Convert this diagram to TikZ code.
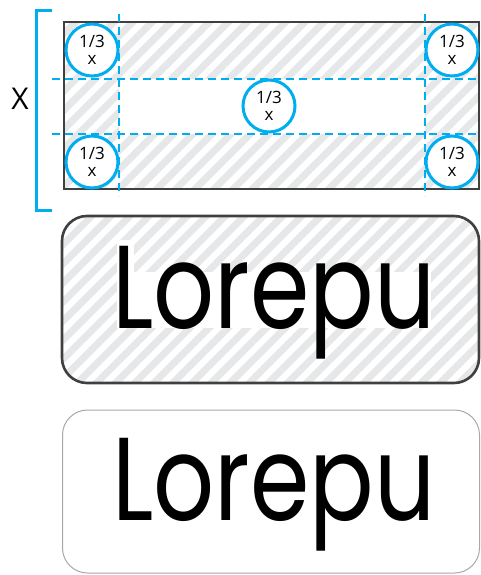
\documentclass[tikz,border=0pt]{standalone}
\usepackage{fontspec}
\setmainfont{Open Sans}
\newfontfamily\logofont{Poppins}
\usetikzlibrary{positioning, patterns.meta}
\definecolor{guideblue}{RGB}{0,174,239}
\definecolor{stripegray}{RGB}{230,231,232}
\definecolor{framegray}{RGB}{64,64,64}
\definecolor{thingray}{RGB}{168,168,168}

\begin{document}
\begin{tikzpicture}[
  x=1pt, y=-1pt,
  hatch/.style={pattern={Lines[angle=45, distance=13.5pt, line width=7pt]},
    pattern color=stripegray},
  guide/.style={draw=guideblue, line width=2.4pt, dash pattern=on 8pt off 5pt},
  ring/.style={circle, draw=guideblue, line width=3pt, fill=white,
    minimum size=52pt, inner sep=0pt, align=center,
    font=\fontsize{17}{17}\selectfont},
  tagbox/.style={rounded corners=25pt, minimum width=417pt},
  logo/.style={font=\logofont\fontsize{118}{118}\selectfont, inner sep=0pt,
    anchor=base west, xscale=0.81}
]
\useasboundingbox (0,0) rectangle (480,575);
% top frame with the clear space grid
\fill[white] (64,22) rectangle (479,189);
\fill[hatch] (64,22) rectangle (479,189);
\fill[white] (119,79) rectangle (425,134);
\draw[framegray, line width=2.2pt] (64,22) rectangle (479,189);
\draw[guide] (52,79) -- (480,79);
\draw[guide] (52,134) -- (480,134);
\draw[guide] (119,14) -- (119,196);
\draw[guide] (425,14) -- (425,196);
\node[ring] (tl) at (92,50) {1/3\\x};
\node[ring] (bl) at (92,162) {1/3\\x};
\node[ring] (mid) at (269,106) {1/3\\x};
\node[ring] (tr) at (452,50) {1/3\\x};
\node[ring] (br) at (452,162) {1/3\\x};
% height bracket
\draw[guideblue, line width=3pt] (52,11) -- (36,11) -- (36,210) -- (52,210);
\node[font=\fontsize{30}{30}\selectfont, inner sep=0pt] (xlab) at (20,99) {X};
% logo on the striped plate
\node[tagbox, draw=framegray, line width=2.6pt, hatch, minimum height=167pt]
  (plate) at (270.5,299.5) {};
\fill[white] (117,240) rectangle (134,328);
\fill[white] (117,272) rectangle (431,328);
\node[logo] (word) at (112,328) {Lorepu};
% logo on the plain plate
\node[tagbox, draw=thingray, line width=1pt, minimum height=163pt]
  (plain) at (271,491.5) {};
\node[logo] (word2) at (112,520) {Lorepu};
\end{tikzpicture}
\end{document}
